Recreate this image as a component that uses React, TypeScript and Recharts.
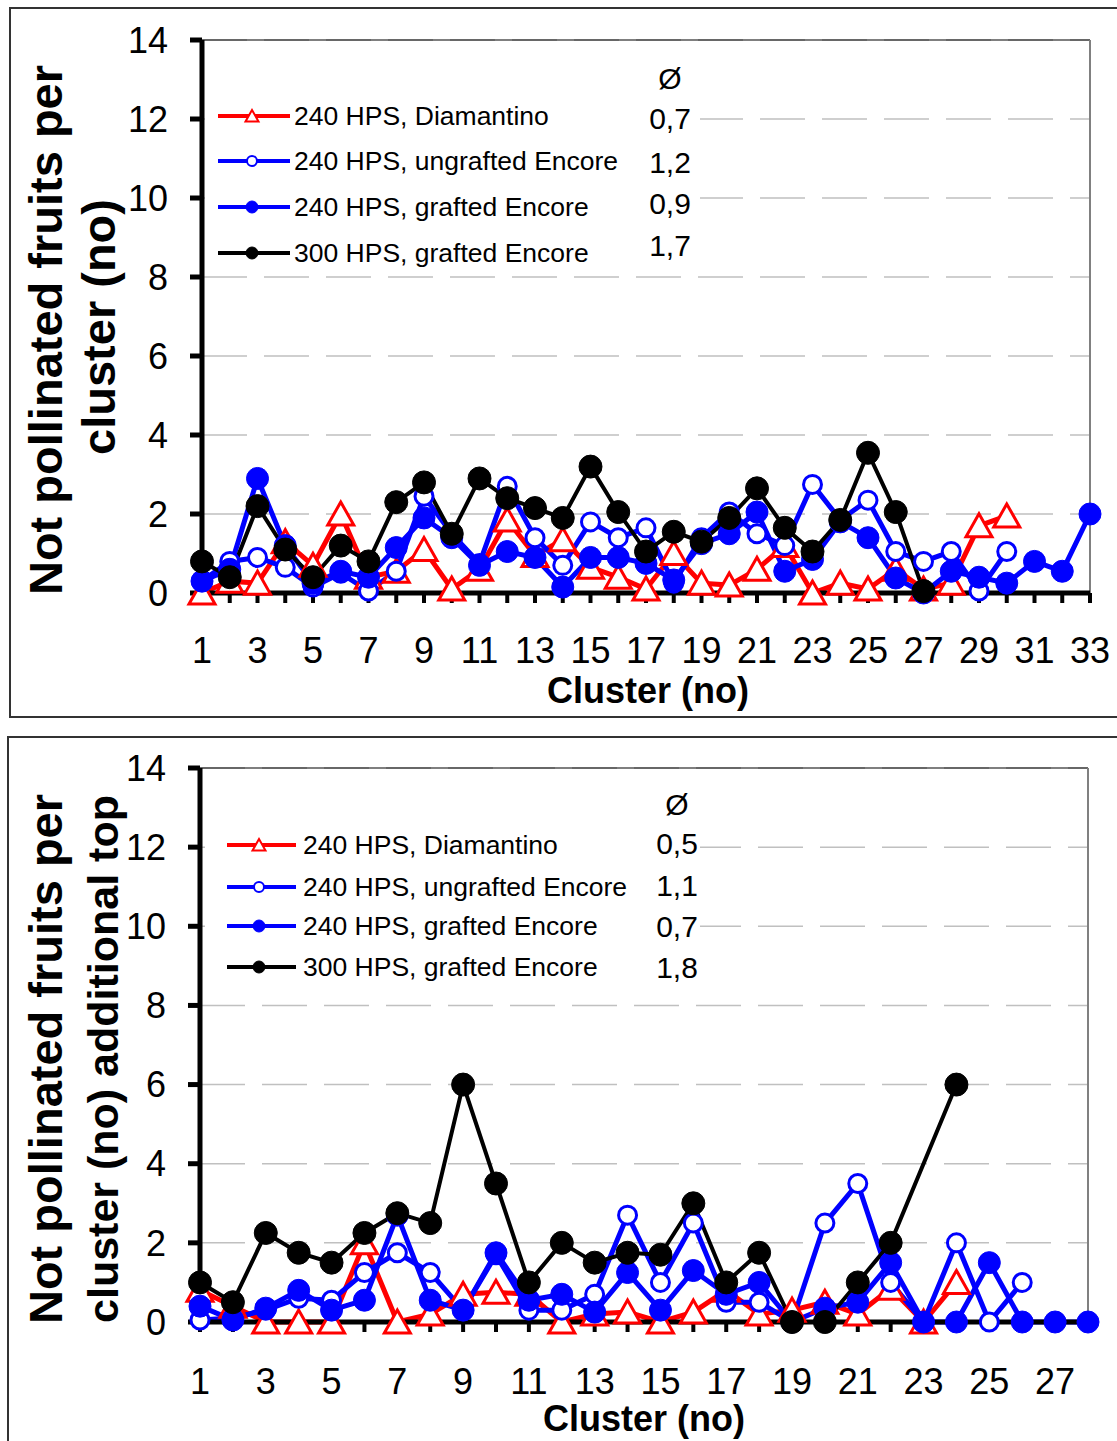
import React from 'react';
import { LineChart, Line, XAxis, YAxis, CartesianGrid, ReferenceLine, Legend } from 'recharts';

const FONT = "'Liberation Sans', Arial, Helvetica, sans-serif";

// ---------- categories ----------
const topClusters = [1,2,3,4,5,6,7,8,9,10,11,12,13,14,15,16,17,18,19,20,21,22,23,24,25,26,27,28,29,30,31,32,33];
const bottomClusters = [1,2,3,4,5,6,7,8,9,10,11,12,13,14,15,16,17,18,19,20,21,22,23,24,25,26,27,28];
const topTickLabels = ['1','3','5','7','9','11','13','15','17','19','21','23','25','27','29','31','33'];
const bottomTickLabels = ['1','3','5','7','9','11','13','15','17','19','21','23','25','27'];
const yTicks = [0, 2, 4, 6, 8, 10, 12, 14];

// ---------- series names & means ----------
const seriesNames = ['240 HPS, Diamantino', '240 HPS, ungrafted Encore', '240 HPS, grafted Encore', '300 HPS, grafted Encore'];
const topMeans = ['0,7', '1,2', '0,9', '1,7'];
const bottomMeans = ['0,5', '1,1', '0,7', '1,8'];

// ---------- top chart values ----------
const topDiamantino = [0.0, 0.3, 0.25, 1.3, 0.7, 2.0, 0.4, 0.55, 1.1, 0.1, 0.6, 1.85, 0.95, 1.35, 0.65, 0.4, 0.1, 1.0, 0.25, 0.2, 0.6, 1.2, 0.0, 0.25, 0.1, 0.6, 0.1, 0.25, 1.7, 1.95, null, null, null];
const topUngrafted = [0.3, 0.8, 0.9, 0.65, 0.15, 0.5, 0.05, 0.55, 2.45, 1.5, 0.75, 2.7, 1.4, 0.7, 1.8, 1.4, 1.65, 0.25, 1.4, 2.05, 1.5, 1.2, 2.75, 1.85, 2.35, 1.05, 0.8, 1.05, 0.05, 1.05, null, null, null];
const topGrafted = [0.3, 0.6, 2.9, 1.2, 0.25, 0.55, 0.4, 1.15, 1.9, 1.4, 0.7, 1.05, 0.9, 0.15, 0.9, 0.9, 0.75, 0.33, 1.25, 1.5, 2.05, 0.55, 0.85, 1.8, 1.4, 0.38, 0.0, 0.55, 0.4, 0.25, 0.8, 0.55, 2.0];
const top300 = [0.8, 0.4, 2.2, 1.1, 0.4, 1.2, 0.8, 2.3, 2.8, 1.5, 2.9, 2.4, 2.15, 1.9, 3.2, 2.05, 1.05, 1.55, 1.3, 1.9, 2.65, 1.65, 1.05, 1.85, 3.55, 2.05, 0.05, null, null, null, null, null, null];

// ---------- bottom chart values ----------
const botDiamantino = [0.8, 0.4, 0, 0, 0, 2.0, 0, 0.2, 0.7, 0.75, 0.7, 0, 0.2, 0.25, 0, 0.25, 0.8, 0.2, 0.3, 0.5, 0.2, 0.85, 0, 1.0, null, null, null, null];
const botUngrafted = [0.05, 0.1, 0.3, 0.6, 0.55, 1.25, 1.75, 1.25, 0.3, 1.7, 0.3, 0.3, 0.7, 2.7, 1.0, 2.5, 0.5, 0.5, 0, 2.5, 3.5, 1.0, 0, 2.0, 0, 1.0, null, null];
const botGrafted = [0.4, 0.05, 0.35, 0.8, 0.3, 0.55, 2.7, 0.55, 0.3, 1.75, 0.55, 0.7, 0.25, 1.25, 0.3, 1.3, 0.7, 1.0, 0, 0.35, 0.5, 1.5, 0, 0, 1.5, 0, 0, 0];
const bot300 = [1.0, 0.5, 2.25, 1.75, 1.5, 2.25, 2.75, 2.5, 6.0, 3.5, 1.0, 2.0, 1.5, 1.75, 1.7, 3.0, 1.0, 1.75, 0, 0, 1.0, 2.0, null, 6.0, null, null, null, null];

const buildRows = (xs: number[], a: any[], b: any[], c: any[], d: any[]) =>
  xs.map((x, i) => ({ x, red: a[i], open: b[i], filled: c[i], black: d[i] }));

const topData = buildRows(topClusters, topDiamantino, topUngrafted, topGrafted, top300);
const bottomData = buildRows(bottomClusters, botDiamantino, botUngrafted, botGrafted, bot300);

type Kind = 'tri' | 'open' | 'filled' | 'black';
const SERIES: { key: string; kind: Kind; color: string; width: number; name: string }[] = [
  { key: 'red', kind: 'tri', color: '#ff0000', width: 5, name: seriesNames[0] },
  { key: 'open', kind: 'open', color: '#0000ff', width: 5, name: seriesNames[1] },
  { key: 'filled', kind: 'filled', color: '#0000ff', width: 5, name: seriesNames[2] },
  { key: 'black', kind: 'black', color: '#000000', width: 4, name: seriesNames[3] },
];

function Marker({ cx, cy, kind, small }: { cx?: number; cy?: number; kind: Kind; small?: boolean }) {
  if (cx == null || cy == null || Number.isNaN(cx) || Number.isNaN(cy)) return <g />;
  const s = small ? 0.5 : 1;
  switch (kind) {
    case 'tri':
      return (
        <polygon
          points={`${cx},${cy - 12 * s} ${cx - 13 * s},${cy + 11 * s} ${cx + 13 * s},${cy + 11 * s}`}
          fill="#ffffff"
          stroke="#ff0000"
          strokeWidth={small ? 2 : 3}
          strokeLinejoin="miter"
        />
      );
    case 'open':
      return <circle cx={cx} cy={cy} r={small ? 5 : 9} fill="#ffffff" stroke="#0000ff" strokeWidth={small ? 2 : 3} />;
    case 'filled':
      return <circle cx={cx} cy={cy} r={small ? 6 : 11} fill="#0000ff" stroke="#0000ff" strokeWidth={1} />;
    default:
      return <circle cx={cx} cy={cy} r={small ? 6 : 11.5} fill="#000000" stroke="#000000" strokeWidth={1} />;
  }
}

type LegendLayout = {
  left: number; top: number; width: number; height: number;
  rows: number[]; lineX1: number; lineX2: number; markerX: number; textX: number;
  symbolX: number; symbolY: number; meanY: number[];
};

function LegendBox({ payload, means, lay }: { payload?: any[]; means: string[]; lay: LegendLayout }) {
  return (
    <div style={{ width: lay.width, height: lay.height, background: '#ffffff' }}>
      <svg width={lay.width} height={lay.height} style={{ display: 'block', fontFamily: FONT }}>
        {SERIES.map((s, i) => {
          const entry = (payload || []).find((e: any) => e.dataKey === s.key);
          const name = entry && entry.value ? entry.value : s.name;
          const y = lay.rows[i];
          return (
            <g key={s.key}>
              <line x1={lay.lineX1} x2={lay.lineX2} y1={y} y2={y} stroke={s.color} strokeWidth={4} />
              <Marker cx={lay.markerX} cy={y} kind={s.kind} small />
              <text x={lay.textX} y={y} dy="0.35em" fontSize={26.5} fill="#000">{name}</text>
            </g>
          );
        })}
        <text x={lay.symbolX} y={lay.symbolY} dy="0.35em" fontSize={30} textAnchor="middle" fill="#000">Ø</text>
        {means.map((m, i) => (
          <text key={i} x={lay.symbolX} y={lay.meanY[i]} dy="0.35em" fontSize={30} textAnchor="middle" fill="#000">{m}</text>
        ))}
      </svg>
    </div>
  );
}

type PanelProps = {
  data: any[];
  xMax: number;
  xTicks: number[];
  tickLabels: string[];
  means: string[];
  height: number;
  yAxisWidth: number;
  rightMargin: number;
  xAxisHeight: number;
  tickMargin: number;
  lay: LegendLayout;
};

function Panel(p: PanelProps) {
  return (
    <LineChart
      width={1117}
      height={p.height}
      data={p.data}
      margin={{ top: 40, right: p.rightMargin, left: 0, bottom: 0 }}
      style={{ fontFamily: FONT }}
    >
      <CartesianGrid vertical={false} stroke="#c0c0c0" strokeWidth={1.5} strokeDasharray="45 17" />
      <ReferenceLine y={14} stroke="#000000" strokeWidth={1.2} ifOverflow="extendDomain" />
      <ReferenceLine x={p.xMax} stroke="#808080" strokeWidth={2} />
      <XAxis
        dataKey="x"
        type="number"
        domain={[1, p.xMax]}
        ticks={p.xTicks}
        interval={0}
        tickFormatter={(v: number) => (p.tickLabels.includes(String(v)) ? String(v) : '')}
        tick={{ fontSize: 36, fill: '#000', fontFamily: FONT }}
        tickSize={10}
        tickMargin={p.tickMargin}
        axisLine={{ stroke: '#000', strokeWidth: 5 }}
        tickLine={{ stroke: '#000', strokeWidth: 4 }}
        height={p.xAxisHeight}
      />
      <YAxis
        type="number"
        domain={[0, 14]}
        ticks={yTicks}
        interval={0}
        width={p.yAxisWidth}
        tick={{ fontSize: 36, fill: '#000', fontFamily: FONT }}
        tickSize={12}
        tickMargin={22}
        axisLine={{ stroke: '#000', strokeWidth: 5 }}
        tickLine={{ stroke: '#000', strokeWidth: 5 }}
      />
      <Legend
        layout="horizontal"
        verticalAlign="middle"
        align="center"
        wrapperStyle={{ left: p.lay.left, top: p.lay.top, width: p.lay.width, height: p.lay.height }}
        content={(props: any) => <LegendBox payload={props.payload} means={p.means} lay={p.lay} />}
      />
      {SERIES.map((s) => (
        <Line
          key={s.key}
          dataKey={s.key}
          name={s.name}
          type="linear"
          stroke={s.color}
          strokeWidth={s.width}
          connectNulls
          isAnimationActive={false}
          activeDot={false}
          dot={(d: any) => <Marker key={`${s.key}-${d.index}`} cx={d.cx} cy={d.cy} kind={s.kind} />}
        />
      ))}
    </LineChart>
  );
}

const topLayout: LegendLayout = {
  left: 205, top: 60, width: 495, height: 208,
  rows: [56, 101, 147, 193], lineX1: 13, lineX2: 85, markerX: 47, textX: 89,
  symbolX: 465, symbolY: 18, meanY: [58, 102, 143, 185],
};
const bottomLayout: LegendLayout = {
  left: 205, top: 60, width: 495, height: 200,
  rows: [57, 99, 138, 179], lineX1: 22, lineX2: 91, markerX: 54, textX: 98,
  symbolX: 472, symbolY: 16, meanY: [55, 97, 138, 179],
};

const titleStyle = { fontFamily: FONT, fontWeight: 700 as const, fill: '#000' };

export default function App() {
  return (
    <div style={{ position: 'absolute', left: 0, top: 0, width: 1117, height: 1441, overflow: 'hidden', background: '#fff' }}>
      <div style={{ position: 'absolute', left: 9, top: 7, width: 1130, height: 711, border: '2px solid #333', boxSizing: 'border-box' }} />
      <div style={{ position: 'absolute', left: 7, top: 736, width: 1130, height: 720, border: '2px solid #333', boxSizing: 'border-box' }} />

      <div style={{ position: 'absolute', left: 0, top: 0 }}>
        <Panel
          data={topData} xMax={33} xTicks={topClusters} tickLabels={topTickLabels} means={topMeans}
          height={720} yAxisWidth={202} rightMargin={27} xAxisHeight={127} tickMargin={34} lay={topLayout}
        />
        <svg width={1117} height={720} style={{ position: 'absolute', left: 0, top: 0, pointerEvents: 'none' }}>
          <text transform="translate(62,330) rotate(-90)" textAnchor="middle" fontSize={47} {...titleStyle}>Not pollinated fruits per</text>
          <text transform="translate(115,327) rotate(-90)" textAnchor="middle" fontSize={47} {...titleStyle}>cluster (no)</text>
          <text x={648} y={703} textAnchor="middle" fontSize={36} {...titleStyle}>Cluster (no)</text>
        </svg>
      </div>

      <div style={{ position: 'absolute', left: 0, top: 728 }}>
        <Panel
          data={bottomData} xMax={28} xTicks={bottomClusters} tickLabels={bottomTickLabels} means={bottomMeans}
          height={713} yAxisWidth={200} rightMargin={29} xAxisHeight={119} tickMargin={36} lay={bottomLayout}
        />
        <svg width={1117} height={713} style={{ position: 'absolute', left: 0, top: 0, pointerEvents: 'none' }}>
          <text transform="translate(62,331) rotate(-90)" textAnchor="middle" fontSize={47} {...titleStyle}>Not pollinated fruits per</text>
          <text transform="translate(118,331) rotate(-90)" textAnchor="middle" fontSize={43} {...titleStyle}>cluster (no) additional top</text>
          <text x={644} y={703} textAnchor="middle" fontSize={36} {...titleStyle}>Cluster (no)</text>
        </svg>
      </div>
    </div>
  );
}
